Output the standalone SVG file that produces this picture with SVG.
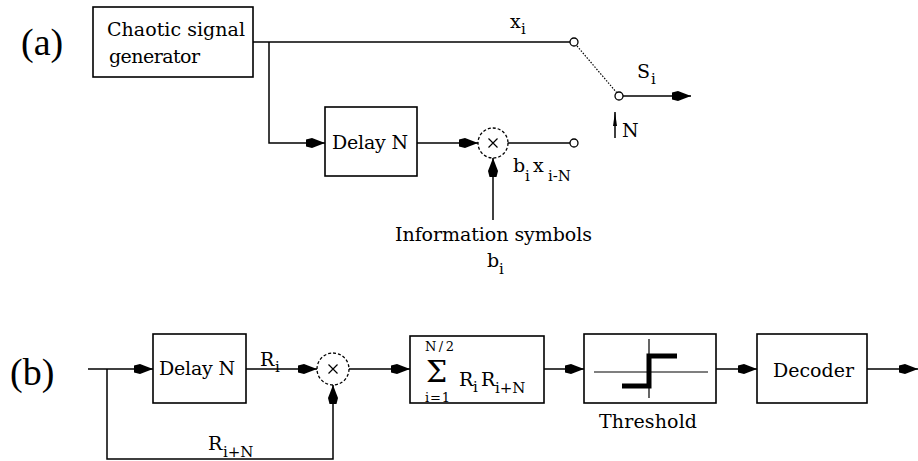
<svg xmlns="http://www.w3.org/2000/svg" width="918" height="461" viewBox="0 0 918 461">
<style>
  text { font-family: "DejaVu Serif", "Liberation Serif", serif; fill: #000; }
  .t { font-size: 19px; }
  .s { font-size: 15px; }
  .lab { font-family: "Liberation Serif", serif; font-size: 38px; }
  .box { fill: #fff; stroke: #000; stroke-width: 1.6; }
  .ln { fill: none; stroke: #000; stroke-width: 1.5; }
  .dot { fill: none; stroke: #000; stroke-width: 1.2; stroke-dasharray: 1.5 1.5; }
  .mul { fill: #fff; stroke: #000; stroke-width: 1.3; stroke-dasharray: 3 2; }
  .term { fill: #fff; stroke: #000; stroke-width: 1.3; }
  .thin { fill: none; stroke: #000; stroke-width: 1.2; }
  .thick { fill: none; stroke: #000; stroke-width: 5; }
  .x { fill: none; stroke: #000; stroke-width: 1.2; }
</style>
<defs>
  <marker id="arr" markerUnits="userSpaceOnUse" markerWidth="19" markerHeight="11" refX="19" refY="5.5" orient="auto" viewBox="0 0 19 11">
    <polygon points="0,2 6,0.5 19,5.5 6,10.5 0,9" fill="#000"/>
  </marker>
  <marker id="arrs" markerUnits="userSpaceOnUse" markerWidth="14" markerHeight="7" refX="14" refY="3.5" orient="auto" viewBox="0 0 14 7">
    <polygon points="0,1.5 14,3.5 0,5.5" fill="#000"/>
  </marker>
</defs>

<rect width="918" height="461" fill="#fff"/>

<text id="label-a" class="lab" x="21" y="55">(a)</text>
<text id="label-b" class="lab" x="10" y="385">(b)</text>

<g id="connectors">
  <path class="ln" d="M253,42 H570"/>
  <path class="ln" d="M269,42 V143 H325" marker-end="url(#arr)"/>
  <path class="ln" d="M417,143 H478" marker-end="url(#arr)"/>
  <path class="ln" d="M508,143 H570"/>
  <path class="ln" d="M493,220 V158" marker-end="url(#arr)"/>
  <path class="dot" d="M577,46 L617,93"/>
  <path class="ln" d="M623,96 H691" marker-end="url(#arr)"/>
  <path class="ln" d="M615,138 V112" marker-end="url(#arrs)"/>

  <path class="ln" d="M88,369 H153" marker-end="url(#arr)"/>
  <path class="ln" d="M107,369 V459 H333 V385" marker-end="url(#arr)"/>
  <path class="ln" d="M246,369 H317" marker-end="url(#arr)"/>
  <path class="ln" d="M349,369 H410" marker-end="url(#arr)"/>
  <path class="ln" d="M544,369 H584" marker-end="url(#arr)"/>
  <path class="ln" d="M716,369 H757" marker-end="url(#arr)"/>
  <path class="ln" d="M867,369 H918" marker-end="url(#arr)"/>
</g>

<g id="conn-labels">
  <text class="t" x="510" y="28">x<tspan class="s" x="521" y="34">i</tspan></text>
  <text class="t" x="637" y="78">S<tspan class="s" x="651" y="84">i</tspan></text>
  <text class="t" x="622" y="137">N</text>
  <text class="t" x="513" y="172">b<tspan class="s" x="525" y="181">i</tspan><tspan x="533" y="172">x</tspan><tspan class="s" x="548" y="181">i-N</tspan></text>
  <text class="t" x="395" y="241" textLength="197" lengthAdjust="spacing">Information symbols</text>
  <text class="t" x="487" y="267">b<tspan class="s" x="499" y="274">i</tspan></text>
  <text class="t" x="260" y="366">R<tspan class="s" x="275" y="372">i</tspan></text>
  <text class="t" x="208" y="450">R<tspan class="s" x="223" y="457">i+N</tspan></text>
  <text class="t" x="599" y="428" textLength="98" lengthAdjust="spacing">Threshold</text>
</g>

<g id="generator">
  <rect class="box" x="93" y="7" width="160" height="70"/>
  <text class="t" x="107" y="36" textLength="138" lengthAdjust="spacing">Chaotic signal</text>
  <text class="t" x="109" y="63" textLength="91" lengthAdjust="spacing">generator</text>
</g>

<g id="delay-a">
  <rect class="box" x="325" y="107" width="92" height="69"/>
  <text class="t" x="332" y="149" textLength="76" lengthAdjust="spacing">Delay N</text>
</g>

<g id="mult-a">
  <circle class="mul" cx="493" cy="143" r="15"/>
  <path class="x" d="M488.5,138.5 L497.5,147.5 M497.5,138.5 L488.5,147.5"/>
</g>

<g id="switch">
  <circle class="term" cx="574" cy="42" r="4"/>
  <circle class="term" cx="619" cy="96" r="4"/>
  <circle class="term" cx="574" cy="143" r="4"/>
</g>

<g id="delay-b">
  <rect class="box" x="153" y="334" width="93" height="69"/>
  <text class="t" x="159" y="375" textLength="76" lengthAdjust="spacing">Delay N</text>
</g>

<g id="mult-b">
  <circle class="mul" cx="333" cy="369" r="16"/>
  <path class="x" d="M328.5,364.5 L337.5,373.5 M337.5,364.5 L328.5,373.5"/>
</g>

<g id="sum">
  <rect class="box" x="410" y="336" width="134" height="67"/>
  <text x="426" y="382" font-size="30" font-family="Liberation Serif, serif">Σ</text>
  <text x="425" y="351" font-size="13" textLength="29" lengthAdjust="spacing">N/2</text>
  <text x="425" y="402" font-size="13" textLength="25" lengthAdjust="spacing">i=1</text>
  <text class="t" x="459" y="386">R<tspan class="s" x="473" y="392">i</tspan><tspan x="481" y="386">R</tspan><tspan class="s" x="495" y="393">i+N</tspan></text>
</g>

<g id="threshold">
  <rect class="box" x="584" y="334" width="132" height="69"/>
  <path class="thin" d="M594,372 H708 M649,339 V398"/>
  <path class="thick" d="M622,386 H649 V356 H677"/>
</g>

<g id="decoder">
  <rect class="box" x="757" y="334" width="110" height="69"/>
  <text class="t" x="773" y="377" textLength="81" lengthAdjust="spacing">Decoder</text>
</g>
</svg>
